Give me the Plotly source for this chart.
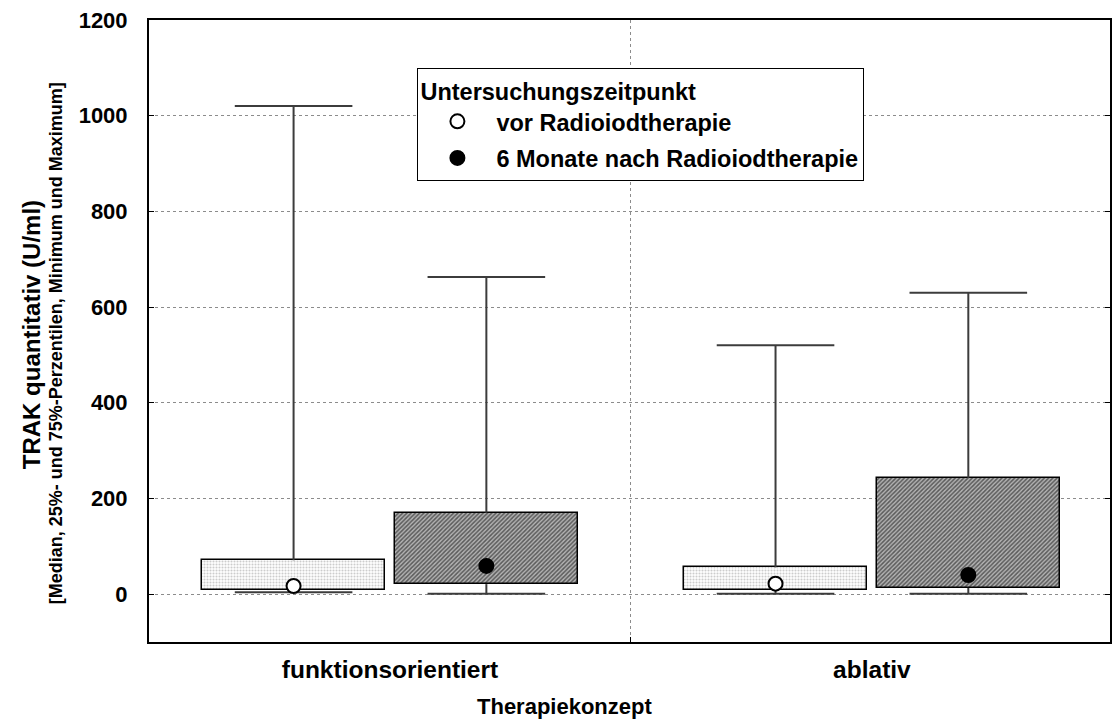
import plotly.graph_objects as go

# Therapy concepts on the x axis
categories = ["funktionsorientiert", "ablativ"]

# TRAK (U/ml) summary statistics per concept: before and 6 months after radioiodine therapy
vor_min = [4, 1]
vor_q1 = [9, 8]
vor_median = [17, 22]
vor_q3 = [71, 56]
vor_max = [1020, 520]

nach_min = [1, 1]
nach_q1 = [21, 13]
nach_median = [59, 40]
nach_q3 = [170, 243]
nach_max = [663, 630]

y_ticks = [0, 200, 400, 600, 800, 1000, 1200]

# layout constants
FONT = "Liberation Sans, Arial, sans-serif"
OFFSET = 0.2        # distance of each box from the category centre
BOX_W = 0.38        # box width in x units
CAP_HALF = 0.122    # half width of whisker caps
WHISKER_COLOR = "#3c3c3c"

fig = go.Figure()


def add_group(name, sign, mn, q1, med, q3, mx, pattern, fill):
    xs = [i + sign * OFFSET for i in range(len(categories))]
    # interquartile box
    fig.add_trace(go.Bar(
        x=xs,
        y=[b - a for a, b in zip(q1, q3)],
        base=q1,
        width=BOX_W,
        marker=dict(color="white", line=dict(color="black", width=1.5), pattern=pattern),
        showlegend=False,
        hoverinfo="skip",
    ))
    # whiskers with caps
    wx, wy = [], []
    for x, a, b, c, d in zip(xs, mn, q1, q3, mx):
        wx += [x, x, None, x, x, None,
               x - CAP_HALF, x + CAP_HALF, None, x - CAP_HALF, x + CAP_HALF, None]
        wy += [c, d, None, b, a, None, d, d, None, a, a, None]
    fig.add_trace(go.Scatter(
        x=wx, y=wy, mode="lines",
        line=dict(color=WHISKER_COLOR, width=2),
        showlegend=False, hoverinfo="skip",
    ))
    # median
    fig.add_trace(go.Scatter(
        x=xs, y=med, mode="markers", name=name,
        legendgroup=name,
        marker=dict(symbol="circle", size=14, color=fill,
                    line=dict(color="black", width=2)),
    ))


add_group("vor Radioiodtherapie", -1, vor_min, vor_q1, vor_median, vor_q3, vor_max,
          dict(shape=".", size=3, solidity=0.4, fgcolor="#9a9a9a", bgcolor="white"),
          "white")
add_group("6 Monate nach Radioiodtherapie", 1, nach_min, nach_q1, nach_median, nach_q3, nach_max,
          dict(shape="/", size=3, solidity=0.5, fgcolor="#000000", bgcolor="#b4b4b4"),
          "black")

fig.update_layout(
    width=1112, height=722,
    margin=dict(l=149, r=0, t=20, b=80),
    paper_bgcolor="white", plot_bgcolor="white",
    font=dict(family=FONT, size=22, color="black", weight="bold"),
    showlegend=True,
    legend=dict(
        title=dict(text="Untersuchungszeitpunkt", font=dict(size=23.5, weight="bold")),
        font=dict(size=23.5, weight="bold"),
        x=0.2793, y=0.9228, xanchor="left", yanchor="top",
        bgcolor="white", bordercolor="black", borderwidth=1,
        itemwidth=68, tracegroupgap=3,
    ),
    bargap=0,
)

fig.update_xaxes(
    range=[-0.5, 1.494],
    tickvals=list(range(len(categories))), ticktext=categories,
    ticks="", showgrid=False, zeroline=False,
    showline=True, linecolor="black", linewidth=2, mirror=True,
    tickfont=dict(size=24.5, weight="bold"),
    ticklabelstandoff=5,
    minor=dict(tickvals=[0.5], showgrid=True, gridcolor="#8c8c8c", griddash="dot",
               gridwidth=1, ticks="inside", ticklen=5, tickcolor="black"),
)

fig.update_yaxes(
    range=[-100, 1200],
    tickvals=y_ticks,
    ticks="inside", ticklen=5, tickcolor="black",
    showgrid=True, gridcolor="#8c8c8c", griddash="dot", gridwidth=1,
    zeroline=False,
    showline=True, linecolor="black", linewidth=2, mirror="allticks",
    tickfont=dict(size=22, weight="bold"),
    ticklabelstandoff=15,
)

# x axis title
fig.add_annotation(
    text="Therapiekonzept",
    xref="paper", yref="paper", x=(565 - 149) / 963, y=(642 - 706) / 622,
    xanchor="center", yanchor="middle", showarrow=False,
    font=dict(size=22, weight="bold"),
)

# two-line y axis title
fig.add_annotation(
    text="TRAK quantitativ (U/ml)", textangle=-90,
    xref="paper", yref="paper", x=(32 - 149) / 963, y=(642 - 335) / 622,
    xanchor="center", yanchor="middle", showarrow=False,
    font=dict(size=24, weight="bold"),
)
fig.add_annotation(
    text="[Median, 25%- und 75%-Perzentilen, Minimum und Maximum]", textangle=-90,
    xref="paper", yref="paper", x=(56 - 149) / 963, y=(642 - 343) / 622,
    xanchor="center", yanchor="middle", showarrow=False,
    font=dict(size=18, weight="bold"),
)

fig.write_html("out.html")
